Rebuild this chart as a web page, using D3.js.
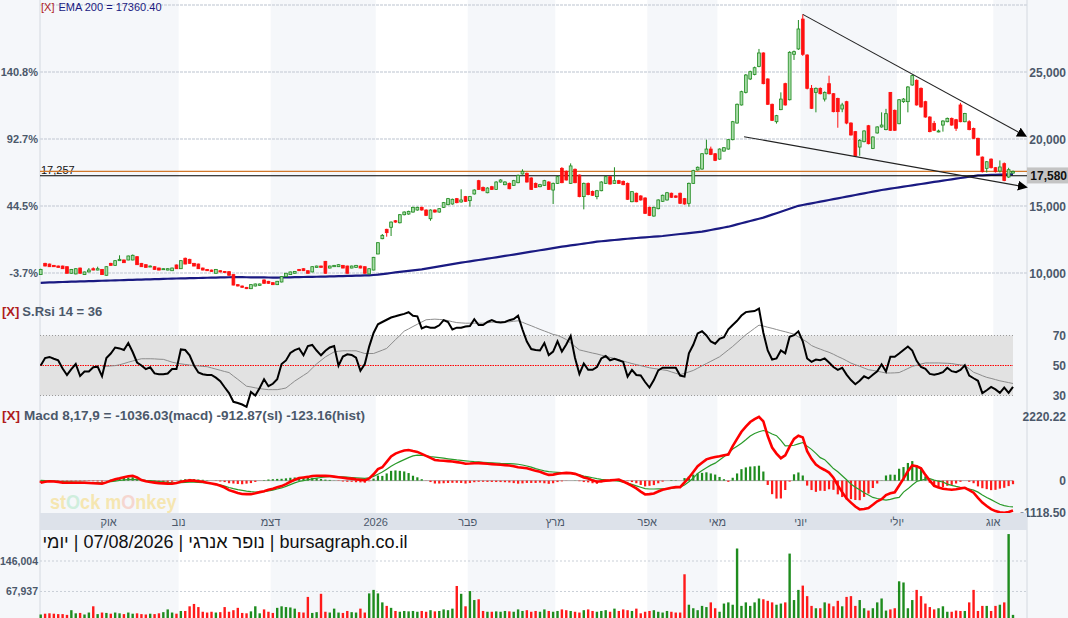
<!DOCTYPE html>
<html>
<head>
<meta charset="utf-8">
<script src="https://cdn.jsdelivr.net/npm/d3@7"></script>
<style>
  body { margin: 0; background: #fff; }
  svg { display: block; font-family: 'Liberation Sans', Arial, 'DejaVu Sans', sans-serif; }
</style>
</head>
<body>
<svg id="chart" width="1068" height="618"></svg>
<script>
// ---- daily candles, Sep 2025 .. 07/08/2026 ----
var opens = [
  9880,10720,10670,10570,10520,10520,10470,9980,9930,10370,
  9880,10080,10320,10220,10270,9830,10720,10570,10920,10970,
  10970,10970,11220,10720,10620,10470,10470,10370,10270,10220,
  10170,10600,10320,11100,11020,10720,10670,10370,10270,10220,
  9980,10170,10120,10100,9880,9130,9030,8930,8830,9030,
  9080,9480,9380,9280,9130,9330,9730,9880,9980,10270,
  10320,10170,10080,10420,10520,10870,10370,10470,10470,10570,
  10520,10370,10420,10520,10470,9930,10220,
  11420,12560,13260,13410,13900,13750,14350,14400,14550,14700,
  14900,14700,14050,14700,14550,14900,15100,15150,15550,15300,
  15700,15400,15900,16890,16390,15990,16440,16240,16790,16590,
  16690,16540,16740,17390,17440,17090,16690,16440,16540,16790,
  16190,16690,17810,17590,16690,17740,17310,15700,16690,16090,
  15700,16140,16690,17190,16690,16890,16840,16690,15320,15950,
  15750,15600,14900,14250,14800,15350,15450,15950,15750,15950,
  15550,15200,16690,17690,
  17760,18900,19250,18900,18500,19100,19250,19950,21190,22540,
  23480,24480,24820,25420,26420,24480,22590,21290,22190,24130,
  22930,26320,26720,28950,26270,23780,23480,23780,22980,24130,
  23380,23030,22240,22785,21190,20550,19400,19800,20990,19300,
  20450,20900,20700,23480,22140,21140,22785,22785,24030,24380,
  23780,22785,21640,21170,20550,21040,21290,21540,21440,22540,
  21290,21290,20790,20050,18650,17810,18500,17860,17610,18160,
  17160,17460
];
var highs = [
  10320,10760,10700,10600,10560,10550,10500,10300,10350,10400,
  10100,10370,10420,10470,10300,10500,10760,10950,11320,11000,
  11300,11380,11250,10750,10650,10560,10500,10400,10350,10350,
  10400,10630,10950,11150,11060,10750,10700,10400,10300,10250,
  10300,10200,10150,10130,9900,9160,9060,8960,9160,9210,
  9210,9520,9410,9310,9410,9760,10000,10100,10150,10300,
  10350,10200,10500,10550,10550,10900,10550,10600,10650,10600,
  10550,10550,10600,10550,10500,10350,11200,
  12300,12910,13300,13850,13950,14400,14600,14650,14950,14950,
  14950,14750,14750,14750,14850,15300,15600,15550,15600,16250,
  15750,15750,16250,16950,16450,16400,16500,16850,17000,16850,
  16750,16950,17350,17740,17500,17150,16750,16650,16950,16850,
  16750,17250,17900,17650,18180,17800,17350,16750,16750,16150,
  16200,16850,17240,17250,17890,16950,16900,16750,16100,16000,
  15800,15650,14950,14950,15500,15850,16050,16000,15800,16000,
  15600,16750,17700,17950,
  18950,19950,19430,18950,19300,19400,20000,21350,22650,23600,
  24850,25100,25400,26720,26470,24530,22640,21800,23480,24200,
  26550,26600,28880,29300,26320,24030,23850,23850,23550,24725,
  23430,23080,22700,22850,21250,20600,20000,20650,21050,20200,
  20950,21990,22250,23500,22200,22980,23050,23950,24800,24450,
  23850,22850,21700,21350,20700,21400,21600,21600,21500,22700,
  21950,21400,20850,20100,18700,18350,18550,17900,18400,18250,
  17850,17650
];
var lows = [
  9850,10500,10450,10450,10400,10300,9950,9950,9900,9950,
  9850,10050,10200,10200,9850,9800,10550,10550,10900,10750,
  10950,10950,10600,10450,10400,10450,10250,10200,10250,10200,
  10150,10300,10300,10650,10700,10500,10300,10200,10150,10100,
  9950,10050,10000,9800,9080,9000,8900,8800,8800,9000,
  9050,9200,9200,9100,9100,9300,9700,9850,9950,10150,
  10150,9950,10050,10400,10400,9950,10350,10450,10450,10350,
  9950,10350,10400,10350,9950,9900,10200,
  11400,12520,12710,12760,13750,13700,14300,14350,14500,14650,
  14650,14250,13900,14500,14500,14850,15050,15100,15200,15250,
  15300,14950,15850,16200,16100,15950,16200,16200,16750,16550,
  16250,16500,16700,17350,16750,16200,16350,16400,16500,16200,
  15150,16650,16700,16900,16650,16700,15650,14750,15800,15750,
  15500,16100,16650,16600,16650,16650,16550,15450,15280,15280,
  15400,14400,14250,14200,14750,15300,15400,15600,15600,15150,
  15100,14950,16650,17650,
  17700,18850,18800,18350,18450,19050,19200,19900,21150,22500,
  23400,24400,24750,25350,24080,22540,21340,21150,22150,22490,
  22880,25900,26650,26200,23700,22240,21990,23330,22800,23330,
  21990,20840,22000,21100,20250,18700,18750,19750,19600,19250,
  20400,20850,20650,20600,20600,21100,22700,21990,23980,22490,
  22340,21590,20500,20600,20500,20550,21250,20990,20600,21250,
  21250,20650,20000,18750,17500,17500,17800,17500,17500,16850,
  17100,17400
];
var closes = [
  10270,10520,10470,10470,10420,10320,9980,10270,10320,9980,
  10080,10220,10220,10320,9880,10470,10570,10920,11020,10770,
  11270,11320,10620,10470,10420,10520,10270,10220,10320,10320,
  10370,10320,10920,10670,10720,10520,10320,10220,10170,10120,
  10270,10080,10030,9830,9100,9030,8930,8830,9130,9180,
  9180,9230,9230,9130,9380,9730,9980,10080,10120,10170,
  10170,9980,10470,10520,10420,9980,10520,10570,10620,10370,
  9980,10520,10570,10370,9980,10320,11170,
  12260,12810,13010,13800,13800,14350,14550,14600,14900,14900,
  14700,14300,14700,14550,14800,15250,15550,15500,15250,15450,
  15350,15700,16190,16240,16140,16340,16240,16790,16940,16790,
  16290,16890,17290,17590,16790,16240,16390,16590,16890,16240,
  16690,17190,16740,16940,17990,16740,15700,16690,15850,15800,
  16140,16790,17190,16640,16890,16690,16590,15500,16070,15320,
  15450,14450,14300,14900,15450,15800,15990,15650,15650,15200,
  15150,16690,17640,17890,
  18900,19250,18850,18400,19250,19350,19950,21290,22590,23530,
  24775,25020,25320,26420,24130,22590,21390,21740,22980,22540,
  26470,26520,28210,26320,23780,22290,23780,23380,23480,23380,
  22040,22040,22540,21190,20300,18750,19900,20600,19650,20150,
  20900,21040,21890,20650,20650,22930,22980,23880,24730,22540,
  22390,21640,20550,20650,20600,21340,21540,21040,20800,21290,
  21910,20700,20050,18800,17560,18300,17860,17560,17910,16910,
  17710,17580
];
var ema200 = [
  9270,9282,9294,9306,9318,9330,9340,9350,9360,9370,
  9380,9390,9400,9410,9420,9430,9440,9450,9460,9470,
  9480,9490,9500,9510,9520,9530,9540,9550,9560,9570,
  9580,9588,9596,9604,9612,9620,9628,9636,9644,9652,
  9660,9668,9676,9684,9690,9688,9686,9684,9680,9676,
  9672,9668,9665,9662,9660,9666,9672,9679,9686,9693,
  9700,9707,9714,9721,9728,9735,9742,9750,9760,9770,
  9780,9790,9800,9810,9820,9830,9850,
  9876,9920,9960,10000,10040,10080,10120,10160,10200,10236,
  10272,10327,10382,10437,10492,10547,10602,10657,10712,10770,
  10820,10870,10920,10970,11020,11070,11120,11168,
  11220,11272,11324,11376,11428,11480,11535,11590,
  11643,11696,11749,11802,11855,11910,11964,
  12010,12056,12102,12148,12194,12240,12288,12337,
  12368,12399,12430,12461,12492,12523,12555,12586,
  12611,12636,12661,12686,12711,12736,12760,
  12797,12834,12871,12910,
  12944,12978,13012,13046,13083,
  13145,13207,13269,13331,13393,13455,
  13540,13625,13710,13795,13880,13965,14050,14135,
  14245,14355,14465,14575,14685,14795,14905,15015,
  15077,15139,15201,15263,15325,15387,15449,15511,15573,15635,
  15697,15759,15821,15883,15945,16007,16069,16131,16194,
  16244,16294,16344,16394,16444,16494,16544,16594,16644,16694,
  16744,16794,16844,16894,16940,
  16990,17040,17090,17140,17190,17235,17280,
  17292,17304,17316,17328,17338,17346,17354,17360.40
];
// volume, thousands of shares
var volumes = [
  9,11,12,11,10,10,8,20,12,13,9,14,30,10,14,13,
  11,14,12,10,14,11,12,10,9,11,10,12,15,22,14,11,
  18,18,30,36,28,16,14,16,14,15,28,16,20,26,13,12,17,30,12,22,16,
  13,26,30,28,27,24,15,14,54,13,15,62,16,14,24,14,13,18,15,14,24,14,63,72,
  63,40,31,26,18,16,18,17,18,16,18,16,20,17,18,22,20,24,82,62,30,69,
  46,48,18,16,16,17,16,18,17,16,22,18,20,16,18,16,22,18,16,18,
  22,20,18,16,14,20,22,18,16,18,20,16,24,18,22,20,18,24,12,16,
  18,20,16,14,18,16,14,14,112,34,25,20,31,28,40,25,16,37,40,34,
  178,
  31,40,31,40,50,48,44,40,34,37,40,165,46,72,83,56,
  31,25,25,40,37,30,44,30,54,56,31,46,25,19,25,40,50,19,22,25,
  94,91,
  25,46,72,56,37,28,22,25,30,16,16,19,18,18,40,72,18,31,31,18,31,34,40,215,8
];
var rsi = [
  50,55,55.7,54.5,53.4,48,43.7,47.6,51,43,
  46,46,48.8,49.2,42.8,55,58,62,61.4,60.3,
  65,59,52,50,47.6,48.8,44.7,44.2,44.2,44.7,
  47.6,47.6,60.7,60.3,56.8,50,45.3,44.2,43.7,43.7,
  41.9,39.6,35.5,31.6,25.8,25,24,22.4,32.3,30,
  35,40.8,36.2,37.8,40.8,51,53.4,58.4,60.3,61.4,
  56.8,63,63.7,60,56.8,59.8,62,63,49.9,56,
  57.5,57,55.2,46.5,51,62.6,71.7,77.5,79,80.5,
  82,82.8,83.7,84.4,85.5,83.2,82.8,74.7,75.9,75.2,
  75.2,76.8,80.2,79,74,75.2,75.2,76,76.3,80.9,
  77,77,79,80.2,79,78.6,79,80.2,81,83.2,
  74,66,61,60.4,60,65,57,59.3,66.1,59.3,
  64,69.6,55,44.4,51.3,47.1,47.1,49,54.7,56.3,
  53.5,54.5,53.5,52.4,42.6,47.1,43.7,43.3,39,35.3,
  40.3,46.7,48.5,48.5,48.5,48.5,43.3,42.6,58.1,63.8,
  71.4,72.8,70,66,64.5,67.7,68.9,74.1,77,79.8,
  83.3,85.6,86,86.3,87.9,71.8,60,54,54.7,60,
  58.1,69.1,70.2,72.8,66.1,54.7,52.4,54,53.5,54.7,
  52,49,47.1,48.5,43.9,40.3,37.5,39.8,42.8,41.4,
  43.9,46.2,50.8,46,55.8,55.8,58,60.4,62.7,60,
  53.1,49,47.8,44.4,43.9,44.5,45.5,48.5,46.2,45.5,
  47.1,50.1,43.3,41.5,39.8,31.6,33.5,35.7,34.1,31.8,
  35.3,31.8,35.7
];
var rsiMa = [
  null,null,null,null,null,null,null,null,null,null,
  null,null,null,null,49.2,49.4,49.7,49.9,50.5,51.3,
  52.2,53,53.8,54.5,54.5,54.5,54.4,54.2,54.1,53.2,
  52.2,51.6,51.1,50.7,50.3,49.9,49.7,49.4,49.2,48.4,
  47.6,46.8,46,45.3,43,40.8,38.5,36.2,35.7,35.1,
  34.6,34.2,33.9,33.9,33.9,34.4,35,37.3,39.6,41.5,
  43.4,45.3,48.2,51.1,53.4,55.7,57.4,59.1,59.5,59.8,
  59.8,59.8,59.8,58.9,58,58,58,59.1,60.2,61.4,
  64.3,67.2,70,72.9,74.4,76,77.5,79,80.5,80.7,
  80.9,80.7,80.5,79.9,79.2,78.6,78.4,78.2,78.2,78.2,
  78.2,78.2,78.5,78.8,79.1,79.1,79.1,79.1,79.5,79.8,
  78.8,77.6,76.5,75.3,74.1,73,71.9,70.7,70.1,68.8,
  67.3,65,62.7,60.4,59.7,59,58.3,57.7,56.9,56.2,
  55.4,54.7,53.8,53,52.1,51.3,50.6,49.9,49.2,48.5,
  48,47.6,47.1,46.7,45.7,44.8,43.9,44.8,45.7,46.7,
  48.2,49.8,51.3,52.8,54.3,55.8,58.1,60.4,62.7,65.3,
  67.9,70.5,72.6,74.8,76.9,76.3,75.5,74.8,74,73.2,
  72.5,71.7,70.9,69.1,67.4,65.6,63.3,62,60.9,59.8,
  58.8,57.5,56,54.7,53.2,51.6,50.5,49.5,48.3,47.2,
  46.7,46.2,45.6,45,45,45.1,45.3,46.6,48,49.4,
  50.2,51,51.7,51.7,51.7,51.7,51.6,51.5,51.3,50.8,
  50.4,50.1,47.8,45.5,44.4,43.2,42.1,41.4,40.6,39.8,
  39.2,38.6,38
];
var macd = [
  -70,-40,-20,-30,-50,-70,-75,-75,-75,-75,
  -75,-80,-90,-100,-110,-60,0,45,80,120,
  150,165,110,20,-20,-50,-70,-85,-95,-105,
  -110,-80,-40,-10,10,0,-20,-40,-70,-100,
  -130,-180,-240,-330,-380,-430,-465,-470,-470,-440,
  -400,-370,-320,-280,-230,-190,-120,-40,30,90,
  110,130,160,170,170,165,160,140,120,100,
  80,70,45,30,10,80,220,400,465,650,
  840,940,1000,1050,1064,1030,1000,930,860,790,
  720,700,690,680,665,645,625,590,595,605,
  609,600,585,575,561,550,540,525,500,465,
  450,430,390,340,311,250,200,210,240,255,
  270,260,235,180,110,72,10,-40,-20,0,
  10,25,37,-30,-100,-180,-270,-380,-480,-470,
  -445,-380,-320,-285,-250,-226,-226,-60,100,300,
  500,620,740,790,820,848,880,908,1200,1450,
  1700,1880,2040,2140,2220.22,2060,1550,1150,940,780,
  880,1180,1450,1564,1504,1027,760,560,450,371,
  280,100,-166,-400,-620,-763,-900,-1001,-985,-950,
  -840,-720,-643,-500,-440,-405,-170,72,330,530,
  500,430,200,0,-180,-240,-280,-300,-315,-300,
  -270,-250,-330,-420,-600,-763,-880,-990,-1060,-1100,
  -1118.50,-1090,-1036.03
];
var signal = [
  10,0,-5,-15,-25,-30,-38,-45,-50,-55,
  -60,-65,-70,-72,-74,-55,-35,-15,5,25,
  40,46,40,25,10,0,-14,-30,-45,-60,
  -70,-74,-70,-60,-50,-50,-60,-70,-80,-100,
  -120,-150,-190,-240,-280,-314,-340,-365,-385,-395,
  -398,-385,-360,-330,-290,-254,-200,-140,-80,-30,
  0,30,60,90,110,130,135,135,132,130,
  120,110,100,90,82,100,150,225,300,400,
  500,585,660,730,800,860,884,880,865,840,
  820,800,780,760,740,720,705,690,675,660,
  650,640,630,620,610,600,595,590,585,570,
  545,510,470,420,380,340,311,300,290,280,
  275,260,230,200,160,132,100,70,45,25,
  13,0,-20,-50,-83,-130,-180,-230,-280,-290,
  -290,-288,-286,-285,-270,-240,-226,-150,-40,90,
  251,350,450,540,609,720,830,950,1100,1200,
  1300,1420,1550,1640,1700,1743,1700,1620,1564,1400,
  1206,1215,1230,1280,1325,1200,1087,950,800,729,
  580,420,311,170,30,-120,-226,-320,-420,-500,
  -584,-620,-650,-679,-650,-610,-584,-400,-285,-150,
  -30,13,50,72,20,-20,-47,-120,-166,-200,
  -230,-250,-290,-330,-400,-500,-584,-660,-740,-822,
  -870,-900,-912.87
];

// first candle of each month, and the month names on the date strip
var monthStarts = [16, 32, 53, 77, 98, 118, 139, 155, 174, 196, 218];
var monthLabels = ['אוק', 'נוב', 'דצמ', '2026', 'פבר', 'מרץ', 'אפר', 'מאי', 'יוני', 'יולי', 'אוג'];

var priceTicks = [10000, 15000, 20000, 25000, 30000];
var pctTicks = [10000, 15000, 20000, 25000];
var pctLabels = ['-3.7%', '44.5%', '92.7%', '140.8%'];
var rsiTicks = [30, 50, 70];
var volTicks = [67.937, 146.004];
var volTickLabels = ['67,937', '146,004'];
var supportLevel = 17257;
// trend lines: [candle index, price] -> [candle index, price]
var trendLines = [
  { i0: 174, p0: 29300, i1: 223.6, p1: 20450 },
  { i0: 160.6, p0: 20170, i1: 223.6, p1: 16490 }
];
var titleText = 'bursagraph.co.il | נופר אנרגי | 07/08/2026 | יומי';

var N = closes.length;
var plotL = 40, plotR = 1027;
var svg = d3.select('#chart');
var slate = '#4b586a';

var x = d3.scaleLinear().domain([0, N - 1]).range([40.7, 1013]);
var yP = d3.scaleLinear().domain([10000, 30000]).range([273, 5]);
var yR = d3.scaleLinear().domain([30, 70]).range([395.5, 335.5]);
var yM = d3.scaleLinear().domain([d3.min(macd), d3.max(macd)]).range([512.8, 416.8]);
var yV = d3.scaleLinear().domain([0, volTicks[1]]).range([618, 561]);

var up = function(i) { return closes[i] >= opens[i]; };

// background + month bands
svg.append('rect').attr('width', 1068).attr('height', 618).attr('fill', '#f5f7fa');
var edges = [plotL].concat(monthStarts.map(function(m) { return x(m - 0.5); }), [plotR]);
var bands = d3.range(edges.length - 1).filter(function(k) { return k > 0 && k % 2 == 0; });
[[0, 513], [530, 618]].forEach(function(r) {
  svg.append('g').selectAll('rect').data(bands).join('rect')
    .attr('x', function(k) { return edges[k]; })
    .attr('width', function(k) { return edges[k + 1] - edges[k]; })
    .attr('y', r[0]).attr('height', r[1] - r[0])
    .attr('fill', '#ffffff');
});

svg.append('line').attr('x1', plotL).attr('x2', plotL).attr('y1', 0).attr('y2', 618)
  .attr('stroke', '#d4d9e0');
svg.append('line').attr('x1', plotR).attr('x2', plotR).attr('y1', 0).attr('y2', 618)
  .attr('stroke', '#d4d9e0');

// ---------- price panel ----------
svg.append('g').selectAll('line').data(priceTicks).join('line')
  .attr('x1', plotL).attr('x2', plotR)
  .attr('y1', function(d) { return yP(d); }).attr('y2', function(d) { return yP(d); })
  .attr('stroke', '#d2d8df').attr('stroke-width', 1.6).attr('stroke-dasharray', '3,1');

svg.append('g').selectAll('text').data(priceTicks.slice(0, 4)).join('text')
  .attr('x', 1066).attr('y', function(d) { return yP(d) + 5; })
  .attr('text-anchor', 'end').attr('font-size', 12).attr('font-weight', 'bold')
  .attr('fill', slate).text(function(d) { return d3.format(',')(d); });

svg.append('g').selectAll('text').data(pctTicks).join('text')
  .attr('x', 38).attr('y', function(d) { return yP(d) + 4; })
  .attr('text-anchor', 'end').attr('font-size', 11).attr('font-weight', 'bold')
  .attr('fill', slate).text(function(d, i) { return pctLabels[i]; });

// ema 200
svg.append('path').datum(ema200)
  .attr('d', d3.line().x(function(d, i) { return x(i); }).y(function(d) { return yP(d); }))
  .attr('fill', 'none').attr('stroke', '#1a1a82').attr('stroke-width', 2.2);

// support level + last price
svg.append('line').attr('x1', plotL).attr('x2', plotR)
  .attr('y1', yP(supportLevel)).attr('y2', yP(supportLevel)).attr('stroke', '#000').attr('stroke-width', 1.2);
svg.append('text').attr('x', 41).attr('y', yP(supportLevel) - 2).attr('font-size', 11)
  .attr('fill', '#111').text(d3.format(',')(supportLevel));
svg.append('line').attr('x1', plotL).attr('x2', plotR)
  .attr('y1', yP(closes[N - 1])).attr('y2', yP(closes[N - 1])).attr('stroke', '#d2782a').attr('stroke-width', 1.2);

// candles
var cg = svg.append('g').selectAll('g').data(d3.range(N)).join('g');
cg.append('line')
  .attr('x1', function(i) { return x(i); }).attr('x2', function(i) { return x(i); })
  .attr('y1', function(i) { return yP(highs[i]); }).attr('y2', function(i) { return yP(lows[i]); })
  .attr('stroke', function(i) { return up(i) ? '#1f8a1f' : '#ff1010'; }).attr('stroke-width', 1);
cg.append('rect')
  .attr('x', function(i) { return x(i) - 1.4; }).attr('width', 2.8)
  .attr('y', function(i) { return yP(Math.max(opens[i], closes[i])); })
  .attr('height', function(i) { return Math.max(1, Math.abs(yP(opens[i]) - yP(closes[i]))); })
  .attr('fill', function(i) { return up(i) ? '#a6dca6' : '#ff1010'; })
  .attr('stroke', function(i) { return up(i) ? '#1f8a1f' : '#ff1010'; }).attr('stroke-width', 0.8);

// trend lines
svg.append('defs').append('marker').attr('id', 'arr')
  .attr('viewBox', '0 0 10 10').attr('refX', 2).attr('refY', 5)
  .attr('markerWidth', 10).attr('markerHeight', 10).attr('markerUnits', 'userSpaceOnUse')
  .attr('orient', 'auto')
  .append('path').attr('d', 'M0,0 L10,5 L0,10 z').attr('fill', '#000');
svg.append('g').selectAll('line').data(trendLines).join('line')
  .attr('x1', function(d) { return x(d.i0); }).attr('y1', function(d) { return yP(d.p0); })
  .attr('x2', function(d) { return x(d.i1); }).attr('y2', function(d) { return yP(d.p1); })
  .attr('stroke', '#222').attr('stroke-width', 1.1).attr('marker-end', 'url(#arr)');

// last price tag
svg.append('rect').attr('x', plotR).attr('y', yP(closes[N - 1]) - 4).attr('width', 41).attr('height', 16)
  .attr('fill', '#c4c4c4');
svg.append('text').attr('x', 1067).attr('y', yP(closes[N - 1]) + 9).attr('text-anchor', 'end')
  .attr('font-size', 12).attr('font-weight', 'bold').attr('fill', '#111')
  .text(d3.format(',')(closes[N - 1]));

var hdr = svg.append('text').attr('x', 41).attr('y', 11).attr('font-size', 11);
hdr.append('tspan').attr('fill', '#b01c1c').text('[X]');
hdr.append('tspan').attr('fill', '#1a1a82').attr('dx', 4).text('EMA 200 = ' + ema200[N - 1].toFixed(2));

// ---------- RSI panel ----------
svg.append('rect').attr('x', plotL).attr('width', x(N - 1) - plotL)
  .attr('y', yR(70)).attr('height', yR(30) - yR(70)).attr('fill', '#e2e2e2');
svg.append('g').selectAll('line').data([30, 70]).join('line')
  .attr('x1', plotL).attr('x2', x(N - 1))
  .attr('y1', function(d) { return yR(d); }).attr('y2', function(d) { return yR(d); })
  .attr('stroke', '#9a9a9a').attr('stroke-dasharray', '1,2');
svg.append('line').attr('x1', plotL).attr('x2', x(N - 1)).attr('y1', yR(50)).attr('y2', yR(50))
  .attr('stroke', '#ff0000').attr('stroke-width', 1.2).attr('stroke-dasharray', '1.5,1');
svg.append('path').datum(rsiMa)
  .attr('d', d3.line().defined(function(d) { return d != null; })
    .x(function(d, i) { return x(i); }).y(function(d) { return yR(d); }))
  .attr('fill', 'none').attr('stroke', '#8c8c8c').attr('stroke-width', 1);
svg.append('path').datum(rsi)
  .attr('d', d3.line().x(function(d, i) { return x(i); }).y(function(d) { return yR(d); }))
  .attr('fill', 'none').attr('stroke', '#000').attr('stroke-width', 2);
svg.append('g').selectAll('text').data(rsiTicks).join('text')
  .attr('x', 1066).attr('y', function(d) { return yR(d) + 4; }).attr('text-anchor', 'end')
  .attr('font-size', 12).attr('font-weight', 'bold').attr('fill', slate).text(function(d) { return d; });
var rh = svg.append('text').attr('x', 2).attr('y', 316).attr('font-size', 13).attr('font-weight', 'bold');
rh.append('tspan').attr('fill', '#b01c1c').text('[X]');
rh.append('tspan').attr('fill', slate).attr('dx', 3).text('S.Rsi 14 = ' + Math.round(rsi[N - 1]));

// ---------- MACD panel ----------
// faint site watermark, squeezed a little horizontally
svg.append('text').attr('transform', 'translate(50,509) scale(0.86,1)')
  .attr('font-size', 21).attr('font-weight', 'bold').attr('opacity', 0.8)
  .selectAll('tspan').data([['st', '#f6e3a0'], ['O', '#c6ecd6'], ['ck m', '#f6e3a0'], ['O', '#f5cfc6'], ['nkey', '#f6e3a0']])
  .join('tspan').attr('fill', function(d) { return d[1]; }).text(function(d) { return d[0]; });

svg.append('line').attr('x1', plotL).attr('x2', x(N - 1)).attr('y1', yM(0)).attr('y2', yM(0))
  .attr('stroke', '#a8a8a8');
// histogram is the macd line minus its signal line
var hist = macd.map(function(m, i) { return m - signal[i]; });
svg.append('g').selectAll('rect').data(hist).join('rect')
  .attr('x', function(d, i) { return x(i) - 1.1; }).attr('width', 2.2)
  .attr('y', function(d) { return Math.min(yM(0), yM(d)); })
  .attr('height', function(d) { return Math.abs(yM(d) - yM(0)); })
  .attr('fill', function(d) { return d >= 0 ? '#1e8c1e' : '#ff1a1a'; });
svg.append('path').datum(signal)
  .attr('d', d3.line().x(function(d, i) { return x(i); }).y(function(d) { return yM(d); }))
  .attr('fill', 'none').attr('stroke', '#2a9a2a').attr('stroke-width', 1.2);
svg.append('path').datum(macd)
  .attr('d', d3.line().x(function(d, i) { return x(i); }).y(function(d) { return yM(d); }))
  .attr('fill', 'none').attr('stroke', '#ff0000').attr('stroke-width', 2.6);
svg.append('g').selectAll('text').data([d3.max(macd), 0, d3.min(macd)]).join('text')
  .attr('x', 1066).attr('y', function(d) { return yM(d) + 4; }).attr('text-anchor', 'end')
  .attr('font-size', 12).attr('font-weight', 'bold').attr('fill', slate)
  .text(function(d) { return d === 0 ? '0' : d.toFixed(2); });
var mh = svg.append('text').attr('x', 2).attr('y', 420).attr('font-size', 13.5).attr('font-weight', 'bold');
mh.append('tspan').attr('fill', '#b01c1c').text('[X]');
mh.append('tspan').attr('fill', slate).attr('dx', 4)
  .text('Macd 8,17,9 = ' + macd[N - 1].toFixed(2) + '(macd) ' + signal[N - 1].toFixed(2) + '(sl) ' +
        hist[N - 1].toFixed(2) + '(hist)');

// ---------- date strip ----------
svg.append('rect').attr('x', plotL).attr('y', 513).attr('width', plotR - plotL).attr('height', 17)
  .attr('fill', '#dde2ea');
svg.append('g').selectAll('text').data(monthLabels).join('text')
  .attr('x', function(d, k) { return edges[k + 1]; }).attr('y', 526)
  .attr('text-anchor', 'middle').attr('font-size', 11).attr('fill', slate).text(function(d) { return d; });

// ---------- volume panel ----------
svg.append('g').selectAll('line').data(volTicks).join('line')
  .attr('x1', plotL).attr('x2', plotR)
  .attr('y1', function(d) { return yV(d); }).attr('y2', function(d) { return yV(d); })
  .attr('stroke', '#c9cfd7').attr('stroke-dasharray', '2,2');
svg.append('g').selectAll('text').data(volTicks).join('text')
  .attr('x', 38).attr('y', function(d) { return yV(d) + 4; }).attr('text-anchor', 'end')
  .attr('font-size', 10.5).attr('font-weight', 'bold').attr('fill', slate)
  .text(function(d, i) { return volTickLabels[i]; });
svg.append('g').selectAll('rect').data(volumes).join('rect')
  .attr('x', function(d, i) { return x(i) - 1.2; }).attr('width', 2.4)
  .attr('y', function(d) { return yV(d); }).attr('height', function(d) { return yV(0) - yV(d); })
  .attr('fill', function(d, i) { return up(i) ? '#1e8c1e' : '#ff1a1a'; });

svg.append('text').attr('x', 225).attr('y', 548).attr('text-anchor', 'middle')
  .attr('direction', 'rtl').style('unicode-bidi', 'embed')
  .attr('font-size', 18).attr('fill', '#111').text(titleText);
</script>
</body>
</html>
